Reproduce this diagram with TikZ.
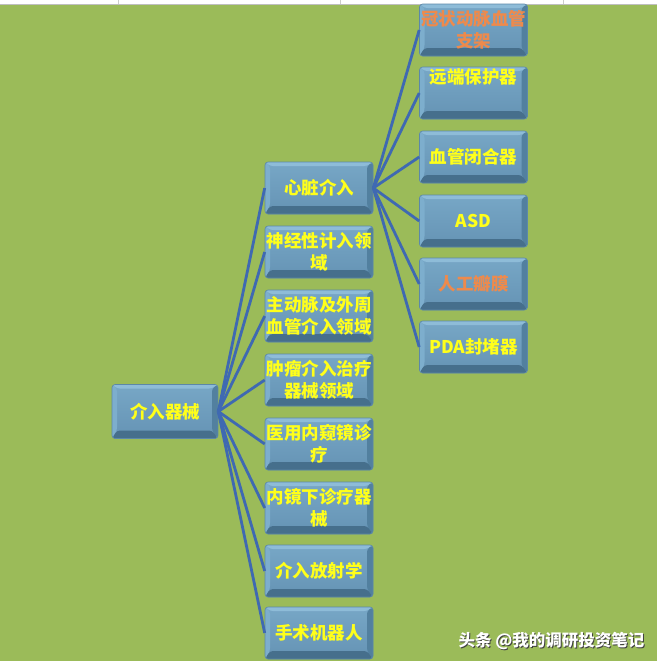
\documentclass[tikz,border=0pt]{standalone}
\usepackage{fontspec}
\newfontfamily\cjk{Noto Sans CJK SC}
\definecolor{bggreen}{HTML}{9BBB59}
\definecolor{face}{HTML}{6593B4}
\definecolor{facetop}{HTML}{77A7C6}
\definecolor{bevtop}{HTML}{8EBCD8}
\definecolor{bevleft}{HTML}{7DAECD}
\definecolor{bevright}{HTML}{52809F}
\definecolor{bevbot}{HTML}{466F8C}
\definecolor{edge}{HTML}{5C88A8}
\definecolor{txtyellow}{HTML}{FFFF1A}
\definecolor{txtorange}{HTML}{EE8A4C}
\definecolor{linkblue}{HTML}{3F69B2}
\tikzset{
  bevelbox/.style={rounded corners=3pt, minimum width=108pt, minimum height=52pt,
    inner sep=1pt, text width=106pt, align=center,
    font=\cjk\bfseries\fontsize{17.5}{21.5}\selectfont, text=txtyellow,
    draw=edge, line width=0.6pt, top color=facetop, bottom color=face,
    path picture={
      \coordinate (pNW) at (path picture bounding box.north west);
      \coordinate (pNE) at (path picture bounding box.north east);
      \coordinate (pSW) at (path picture bounding box.south west);
      \coordinate (pSE) at (path picture bounding box.south east);
      \fill[bevtop] (pNW) -- (pNE) -- ([xshift=-6pt,yshift=-4pt]pNE) -- ([xshift=5pt,yshift=-4pt]pNW) -- cycle;
      \fill[bevleft] (pNW) -- ([xshift=5pt,yshift=-4pt]pNW) -- ([xshift=5pt,yshift=8pt]pSW) -- (pSW) -- cycle;
      \fill[bevright] (pNE) -- ([xshift=-6pt,yshift=-4pt]pNE) -- ([xshift=-6pt,yshift=8pt]pSE) -- (pSE) -- cycle;
      \fill[bevbot] (pSW) -- ([xshift=5pt,yshift=8pt]pSW) -- ([xshift=-6pt,yshift=8pt]pSE) -- (pSE) -- cycle;
    }},
  orangetxt/.style={text=txtorange},
  link/.style={draw=linkblue, line width=2.8pt}
}
\begin{document}
\begin{tikzpicture}[x=1pt,y=-1pt]
\useasboundingbox (0,0) rectangle (657,664);
\fill[white] (0,0) rectangle (657,664);
\fill[bggreen] (0,5) rectangle (657,661);
\foreach \gx in {118,340,563} \draw[gray!40, line width=0.4pt] (\gx,0) -- (\gx,4);
\draw[gray!50, line width=0.4pt] (0,4.5) -- (657,4.5);
% root
\node[bevelbox, minimum width=106pt, text width=104pt, minimum height=54pt] (root) at (165,411.5) {介入器械};
% middle column
\node[bevelbox] (m1) at (319,188) {心脏介入};
\node[bevelbox] (m2) at (319,252) {神经性计入领\\域};
\node[bevelbox] (m3) at (319,316) {主动脉及外周\\血管介入领域};
\node[bevelbox] (m4) at (319,380) {肿瘤介入治疗\\器械领域};
\node[bevelbox] (m5) at (319,444) {医用内窥镜诊\\疗};
\node[bevelbox] (m6) at (319,508) {内镜下诊疗器\\械};
\node[bevelbox] (m7) at (319,571) {介入放射学};
\node[bevelbox] (m8) at (319,633) {手术机器人};
% right column
\node[bevelbox, orangetxt, minimum width=107pt] (r1) at (473.5,30) {冠状动脉血管\\支架};
\node[bevelbox, minimum width=107pt] (r2) at (473.5,93) {\raisebox{14pt}[13pt][4pt]{远端保护器}};
\node[bevelbox, minimum width=107pt] (r3) at (473.5,157) {血管闭合器};
\node[bevelbox, minimum width=107pt] (r4) at (473.5,221) {ASD};
\node[bevelbox, orangetxt, minimum width=107pt] (r5) at (473.5,284) {人工瓣膜};
\node[bevelbox, minimum width=107pt] (r6) at (473.5,347) {PDA封堵器};
% connectors
\foreach \m in {m1,m2,m3,m4,m5,m6,m7,m8} \draw[link] (root.east) -- (\m.west);
\foreach \r in {r1,r2,r3,r4,r5,r6} \draw[link] (m1.east) -- (\r.west);
% watermark
\node[anchor=west, font=\cjk\bfseries\fontsize{16.5}{19}\selectfont, text=black!75] (wms) at (456,642) {头条 @我的调研投资笔记};
\node[anchor=west, font=\cjk\bfseries\fontsize{16.5}{19}\selectfont, text=white] (wm) at (455,641) {头条 @我的调研投资笔记};
\end{tikzpicture}
\end{document}
